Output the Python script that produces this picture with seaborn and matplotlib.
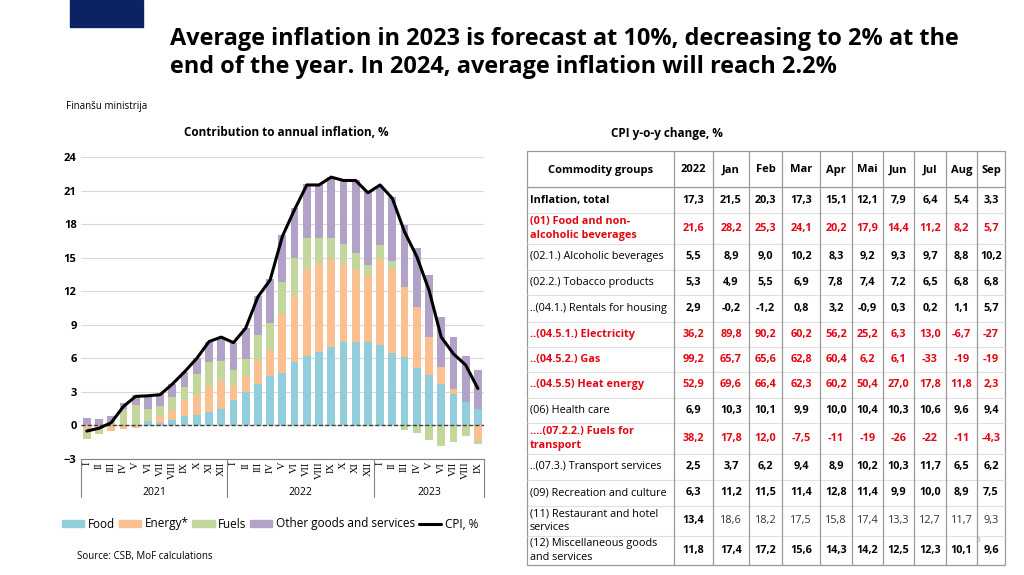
import numpy as np
import pandas as pd
import matplotlib
matplotlib.use("Agg")
import matplotlib.pyplot as plt
from matplotlib.patches import Patch, Rectangle
from matplotlib.lines import Line2D
from matplotlib.transforms import blended_transform_factory
import seaborn as sns

# ---------------------------------------------------
# Data: contributions to annual inflation (pp)
# ---------------------------------------------------

months = ["I", "II", "III", "IV", "V", "VI", "VII", "VIII", "IX", "X", "XI", "XII",
          "I", "II", "III", "IV", "V", "VI", "VII", "VIII", "IX", "X", "XI", "XII",
          "I", "II", "III", "IV", "V", "VI", "VII", "VIII", "IX"]
years = ["2021", "2022", "2023"]
months_per_year = [12, 12, 9]

food = [0, 0, 0, 0, 0, 0.4, 0.25, 0.45, 0.8, 0.95, 1.2, 1.5,
        2.25, 3.0, 3.75, 4.4, 4.65, 5.7, 6.2, 6.6, 7.05, 7.5, 7.5, 7.45,
        7.2, 6.45, 6.15, 5.1, 4.55, 3.7, 2.85, 2.1, 1.5]
energy = [-0.3, -0.2, -0.5, -0.3, -0.25, -0.05, 0.55, 0.95, 1.5, 1.75, 2.3, 2.5,
          1.25, 1.45, 2.1, 2.35, 5.35, 6.0, 7.75, 7.95, 7.8, 6.9, 6.4, 5.95,
          7.65, 7.5, 6.25, 5.5, 3.4, 1.5, 0.45, 0.0, -1.35]
fuels = [-0.9, -0.55, 0.3, 1.5, 1.8, 1.1, 0.95, 1.1, 1.1, 1.9, 2.2, 1.8,
         1.5, 1.45, 2.25, 2.45, 2.8, 3.3, 2.85, 2.25, 1.95, 1.8, 1.5, 0.9,
         1.25, 0.75, -0.45, -0.7, -1.3, -1.8, -1.5, -0.9, -0.3]
other = [0.65, 0.55, 0.5, 0.5, 0.95, 1.2, 1.05, 1.2, 1.4, 1.4, 1.8, 2.0,
         2.4, 2.8, 3.45, 3.85, 4.2, 4.4, 4.8, 4.8, 5.4, 5.7, 6.5, 6.7,
         5.2, 5.7, 5.5, 5.3, 5.5, 4.5, 4.6, 4.15, 3.45]
cpi = [-0.5, -0.25, 0.25, 1.7, 2.6, 2.65, 2.75, 3.7, 4.8, 6.0, 7.5, 7.9,
       7.4, 8.7, 11.5, 13.0, 16.9, 19.3, 21.5, 21.5, 22.2, 21.9, 21.9, 20.8,
       21.5, 20.3, 17.3, 15.1, 12.1, 7.9, 6.4, 5.4, 3.3]

series_names = ["Food", "Energy*", "Fuels", "Other goods and services"]

# ---------------------------------------------------
# Data: CPI y-o-y change table
# ---------------------------------------------------

table_header = ["Commodity groups", "2022", "Jan", "Feb", "Mar", "Apr",
                "Mai", "Jun", "Jul", "Aug", "Sep"]
row_labels = [
    "Inflation, total",
    "(01) Food and non-\nalcoholic beverages",
    "(02.1.) Alcoholic beverages",
    "(02.2.) Tobacco products",
    "..(04.1.) Rentals for housing",
    "..(04.5.1.) Electricity",
    "..(04.5.2.) Gas",
    "..(04.5.5) Heat energy",
    "(06) Health care",
    "....(07.2.2.) Fuels for\ntransport",
    "..(07.3.) Transport services",
    "(09) Recreation and culture",
    "(11) Restaurant and hotel\nservices",
    "(12) Miscellaneous goods\nand services",
]
row_values = [
    ["17,3", "21,5", "20,3", "17,3", "15,1", "12,1", "7,9", "6,4", "5,4", "3,3"],
    ["21,6", "28,2", "25,3", "24,1", "20,2", "17,9", "14,4", "11,2", "8,2", "5,7"],
    ["5,5", "8,9", "9,0", "10,2", "8,3", "9,2", "9,3", "9,7", "8,8", "10,2"],
    ["5,3", "4,9", "5,5", "6,9", "7,8", "7,4", "7,2", "6,5", "6,8", "6,8"],
    ["2,9", "-0,2", "-1,2", "0,8", "3,2", "-0,9", "0,3", "0,2", "1,1", "5,7"],
    ["36,2", "89,8", "90,2", "60,2", "56,2", "25,2", "6,3", "13,0", "-6,7", "-27"],
    ["99,2", "65,7", "65,6", "62,8", "60,4", "6,2", "6,1", "-33", "-19", "-19"],
    ["52,9", "69,6", "66,4", "62,3", "60,2", "50,4", "27,0", "17,8", "11,8", "2,3"],
    ["6,9", "10,3", "10,1", "9,9", "10,0", "10,4", "10,3", "10,6", "9,6", "9,4"],
    ["38,2", "17,8", "12,0", "-7,5", "-11", "-19", "-26", "-22", "-11", "-4,3"],
    ["2,5", "3,7", "6,2", "9,4", "8,9", "10,2", "10,3", "11,7", "6,5", "6,2"],
    ["6,3", "11,2", "11,5", "11,4", "12,8", "11,4", "9,9", "10,0", "8,9", "7,5"],
    ["13,4", "18,6", "18,2", "17,5", "15,8", "17,4", "13,3", "12,7", "11,7", "9,3"],
    ["11,8", "17,4", "17,2", "15,6", "14,3", "14,2", "12,5", "12,3", "10,1", "9,6"],
]
red_rows = [1, 5, 6, 7, 9]
bold_label_rows = [0, 1, 5, 6, 7, 9]
light_value_rows = [12]

# ---------------------------------------------------
# Theme
# ---------------------------------------------------

sns.set_theme(style="white")
plt.rcParams["font.family"] = ["Open Sans", "DejaVu Sans"]
plt.rcParams["text.color"] = "black"
plt.rcParams["xtick.color"] = "black"
plt.rcParams["ytick.color"] = "black"

FOOD = "#92CDDC"
ENERGY = "#FAC090"
FUELS = "#C3D69B"
OTHER = "#B3A2C7"
RED = "#E30613"
NAVY = "#0B2265"

fig = plt.figure(figsize=(10.24, 5.75), dpi=100)

# overlay in pixel coordinates for title, logo and table
ov = fig.add_axes([0, 0, 1, 1])
ov.set_xlim(0, 1024)
ov.set_ylim(575, 0)
ov.axis("off")

ov.add_patch(Rectangle((70, 0), 73, 27, color=NAVY))
ov.text(107, 106, "Finanšu ministrija", fontsize=7, ha="center", va="center")
ov.text(170, 53, "Average inflation in 2023 is forecast at 10%, decreasing to 2% at the\n"
        "end of the year. In 2024, average inflation will reach 2.2%",
        fontsize=16.9, fontweight="bold", ha="left", va="center", linespacing=1.27)
ov.text(286, 133, "Contribution to annual inflation, %", fontsize=8.5,
        fontweight="bold", ha="center", va="center")
ov.text(667, 133, "CPI y-o-y change, %", fontsize=8.5,
        fontweight="bold", ha="center", va="center")
ov.text(77, 557, "Source: CSB, MoF calculations", fontsize=7, ha="left", va="center")
ov.text(978, 541, "5", fontsize=6, color="#999999", ha="center", va="center")

# ---------------------------------------------------
# Stacked contribution chart
# ---------------------------------------------------

ax = fig.add_axes([80.7 / 1024, 1 - 459 / 575, (484 - 80.7) / 1024, (459 - 157) / 575])
x = np.arange(len(months))

df = pd.DataFrame({"Food": food, "Energy*": energy, "Fuels": fuels,
                   "Other goods and services": other})
pos_bottom = np.zeros(len(x))
neg_bottom = np.zeros(len(x))
for name, color in zip(series_names, [FOOD, ENERGY, FUELS, OTHER]):
    vals = df[name].to_numpy()
    bottom = np.where(vals >= 0, pos_bottom, neg_bottom)
    ax.bar(x, vals, bottom=bottom, width=0.64, color=color, linewidth=0, zorder=2)
    pos_bottom = pos_bottom + np.clip(vals, 0, None)
    neg_bottom = neg_bottom + np.clip(vals, None, 0)

sns.lineplot(x=x, y=cpi, ax=ax, color="black", linewidth=2.2, zorder=3)

ax.set_xlim(-0.5, len(months) - 0.5)
ax.set_ylim(-3, 24)
ax.set_yticks(np.arange(-3, 25, 3))
ax.yaxis.grid(True, color="#d9d9d9", linewidth=0.8, zorder=0)
ax.axhline(0, color="#404040", linewidth=1.0, linestyle=(0, (3, 1.5)), zorder=2.5)
for side in ["top", "right", "left"]:
    ax.spines[side].set_visible(False)
ax.spines["bottom"].set_color("#808080")
ax.spines["bottom"].set_linewidth(0.8)
ax.tick_params(axis="y", length=0, pad=3, labelsize=8)
for lab in ax.get_yticklabels():
    lab.set_fontweight("bold")
ax.set_xticks(x)
ax.set_xticklabels(months, rotation=90, fontsize=7.5,
                   family=["Liberation Serif", "DejaVu Serif"])
ax.tick_params(axis="x", length=0, pad=2)

# year group separators and labels
trans = blended_transform_factory(ax.transData, ax.transAxes)
start = 0
edges = [-0.5]
for yr, n in zip(years, months_per_year):
    ax.text(start + (n - 1) / 2, -0.11, yr, transform=trans, fontsize=7.5,
            ha="center", va="center")
    start += n
    edges.append(start - 0.5)
for e in edges:
    ax.plot([e, e], [0, -0.125], transform=trans, color="#808080",
            linewidth=0.8, clip_on=False)

handles = [Patch(color=c) for c in [FOOD, ENERGY, FUELS, OTHER]]
handles.append(Line2D([0], [0], color="black", linewidth=2.2))
fig.legend(handles, series_names + ["CPI, %"], loc="center",
           bbox_to_anchor=(270 / 1024, 1 - 524 / 575), ncol=5, frameon=False,
           fontsize=8.5, handlelength=1.9, handleheight=0.6, handletextpad=0.3,
           columnspacing=0.3)

# ---------------------------------------------------
# Table
# ---------------------------------------------------

col_edges = [527, 674, 713, 749, 782, 820, 852, 883, 914, 946, 977, 1005]
row_edges = [151, 187, 213, 244, 270, 295, 322, 347, 372, 398, 423, 454,
             480, 506, 536, 565]

ov.hlines(row_edges[1:-1], col_edges[0], col_edges[-1], color="#e0e0e0", linewidth=0.8)
ov.hlines(row_edges[1], col_edges[0], col_edges[-1], color="#9a9a9a", linewidth=0.9)
ov.vlines(col_edges[1:-1], row_edges[0], row_edges[-1], color="#9a9a9a", linewidth=0.9)
ov.add_patch(Rectangle((col_edges[0], row_edges[0]), col_edges[-1] - col_edges[0],
                       row_edges[-1] - row_edges[0], fill=False,
                       edgecolor="#9a9a9a", linewidth=0.9))

# header
for j, h in enumerate(table_header):
    cx = (col_edges[j] + col_edges[j + 1]) / 2
    ov.text(cx, (row_edges[0] + row_edges[1]) / 2 + 1, h, fontsize=8,
            fontweight="bold", ha="center", va="center")

for i, (label, vals) in enumerate(zip(row_labels, row_values)):
    cy = (row_edges[i + 1] + row_edges[i + 2]) / 2
    color = RED if i in red_rows else "black"
    weight = "bold" if i in bold_label_rows else "normal"
    ov.text(col_edges[0] + 3, cy, label, fontsize=7.8, color=color,
            fontweight=weight, ha="left", va="center", linespacing=1.35)
    for j, v in enumerate(vals):
        cx = (col_edges[j + 1] + col_edges[j + 2]) / 2
        vw = "normal" if (i in light_value_rows and j > 0) else "bold"
        vc = "#333333" if (i in light_value_rows and j > 0) else color
        ov.text(cx, cy, v, fontsize=7.8, color=vc, fontweight=vw,
                ha="center", va="center")

fig.savefig("out.png", dpi=100)
plt.close(fig)
